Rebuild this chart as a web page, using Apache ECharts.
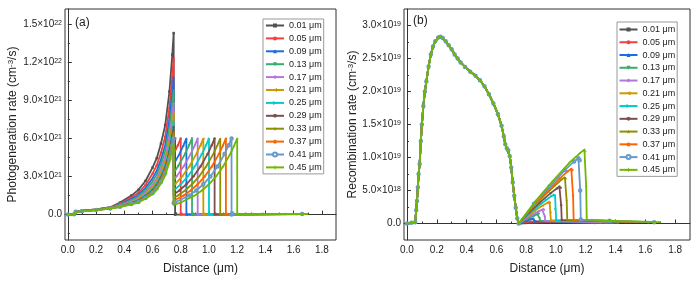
<!DOCTYPE html>
<html><head><meta charset="utf-8">
<script src="https://cdn.jsdelivr.net/npm/echarts@6/dist/echarts.min.js"></script>
<style>html,body{margin:0;padding:0;background:#fff}#c{width:700px;height:282px}</style>
</head><body><div id="c"></div>
<script>
// ---------- legend / series names ----------
const seriesNames = ['0.01 μm','0.05 μm','0.09 μm','0.13 μm','0.17 μm','0.21 μm','0.25 μm','0.29 μm','0.33 μm','0.37 μm','0.41 μm','0.45 μm'];
const seriesColors = ['#515151','#F14040','#1A6FDF','#37AD6B','#B177DE','#CC9900','#00CBCC','#7D4E4E','#8E8E00','#FB6501','#6699CC','#6FB802'];
const seriesSymbols = ['rect','circle','triangle','path://M0,0 L10,0 L5,10 Z','diamond','path://M10,0 L10,10 L0,5 Z','path://M0,0 L10,5 L0,10 Z','path://M5,0 L10,2.5 L10,7.5 L5,10 L0,7.5 L0,2.5 Z','path://M5,0 L6.2,3.6 L10,3.6 L7,5.9 L8.1,9.5 L5,7.3 L1.9,9.5 L3,5.9 L0,3.6 L3.8,3.6 Z','path://M5,0 L10,3.8 L8.1,10 L1.9,10 L0,3.8 Z','emptyCircle','path://M4,0 H6 V4 H10 V6 H6 V10 H4 V6 H0 V4 H4 Z'];

// ---------- panel (a): photogeneration rate, units of 1e21 cm^-3/s ----------
const genLeftX = [0, 0.045, 0.055, 0.1, 0.2, 0.3, 0.37, 0.45, 0.5, 0.55, 0.6, 0.63, 0.66, 0.69, 0.72, 0.74, 0.75];
const genLeftY = [
  [0, 0.02, 0.28, 0.32, 0.42, 0.58, 0.95, 1.50, 1.95, 2.65, 3.70, 4.45, 5.60, 7.05, 9.70, 12.60, 14.30],
  [0, 0.02, 0.26, 0.31, 0.41, 0.56, 0.87, 1.34, 1.72, 2.33, 3.22, 3.88, 4.88, 6.14, 8.42, 10.88, 12.30],
  [0, 0.02, 0.25, 0.30, 0.40, 0.54, 0.81, 1.22, 1.55, 2.09, 2.86, 3.45, 4.34, 5.47, 7.48, 9.60, 10.85],
  [0, 0.02, 0.24, 0.29, 0.39, 0.53, 0.77, 1.13, 1.43, 1.92, 2.60, 3.15, 3.96, 5.00, 6.80, 8.70, 9.75],
  [0, 0.02, 0.23, 0.28, 0.38, 0.52, 0.73, 1.05, 1.31, 1.76, 2.36, 2.85, 3.59, 4.53, 6.16, 7.82, 8.75],
  [0, 0.02, 0.22, 0.28, 0.38, 0.51, 0.70, 0.99, 1.23, 1.64, 2.18, 2.64, 3.32, 4.19, 5.68, 7.17, 8.00],
  [0, 0.02, 0.22, 0.27, 0.37, 0.50, 0.67, 0.94, 1.15, 1.53, 2.02, 2.45, 3.08, 3.89, 5.27, 6.61, 7.35],
  [0, 0.02, 0.21, 0.27, 0.37, 0.50, 0.65, 0.90, 1.10, 1.46, 1.91, 2.32, 2.92, 3.69, 4.98, 6.22, 6.90],
  [0, 0.02, 0.21, 0.27, 0.37, 0.49, 0.64, 0.87, 1.05, 1.39, 1.82, 2.21, 2.77, 3.51, 4.72, 5.87, 6.50],
  [0, 0.02, 0.21, 0.26, 0.36, 0.49, 0.63, 0.85, 1.03, 1.36, 1.76, 2.14, 2.69, 3.40, 4.57, 5.66, 6.25],
  [0, 0.02, 0.20, 0.26, 0.36, 0.48, 0.62, 0.83, 1.00, 1.31, 1.70, 2.07, 2.59, 3.28, 4.41, 5.44, 6.00],
  [0, 0.02, 0.20, 0.26, 0.36, 0.48, 0.60, 0.80, 0.95, 1.25, 1.60, 1.95, 2.45, 3.10, 4.15, 5.10, 5.60]
];
// second absorber layer + tail, [distance um, rate 1e21]
const genLayer2 = [
  [[0.75,5.73],[0.76,6.0],[0.76,0],[0.765,0.08],[1.26,0.05]],
  [[0.75,4.77],[0.78,5.47],[0.80,6.0],[0.80,0],[0.805,0.08],[1.30,0.05]],
  [[0.75,3.97],[0.79,4.77],[0.82,5.47],[0.84,6.0],[0.84,0],[0.845,0.08],[1.34,0.05]],
  [[0.75,3.30],[0.78,3.79],[0.83,4.77],[0.86,5.47],[0.88,6.0],[0.88,0],[0.885,0.08],[1.38,0.05]],
  [[0.75,2.74],[0.77,3.01],[0.82,3.79],[0.87,4.77],[0.90,5.47],[0.92,6.0],[0.92,0],[0.925,0.08],[1.42,0.05]],
  [[0.75,2.28],[0.76,2.39],[0.81,3.01],[0.86,3.79],[0.91,4.77],[0.94,5.47],[0.96,6.0],[0.96,0],[0.965,0.08],[1.46,0.05]],
  [[0.75,1.90],[0.80,2.39],[0.85,3.01],[0.90,3.79],[0.95,4.77],[0.98,5.47],[1.00,6.0],[1.00,0],[1.005,0.08],[1.50,0.05]],
  [[0.75,1.58],[0.79,1.90],[0.84,2.39],[0.89,3.01],[0.94,3.79],[0.99,4.77],[1.02,5.47],[1.04,6.0],[1.04,0],[1.045,0.08],[1.54,0.05]],
  [[0.75,1.31],[0.78,1.51],[0.83,1.90],[0.88,2.39],[0.93,3.01],[0.98,3.79],[1.03,4.77],[1.06,5.47],[1.08,6.0],[1.08,0],[1.085,0.08],[1.58,0.05]],
  [[0.75,1.09],[0.82,1.51],[0.87,1.90],[0.92,2.39],[0.97,3.01],[1.02,3.79],[1.07,4.77],[1.10,5.47],[1.12,6.0],[1.12,0],[1.125,0.08],[1.62,0.05]],
  [[0.75,0.91],[0.76,0.95],[0.86,1.51],[0.91,1.90],[0.96,2.39],[1.01,3.01],[1.06,3.79],[1.11,4.77],[1.14,5.47],[1.16,6.0],[1.16,0],[1.165,0.08],[1.66,0.05]],
  [[0.75,0.76],[0.80,0.95],[0.90,1.51],[0.95,1.90],[1.00,2.39],[1.05,3.01],[1.10,3.79],[1.15,4.77],[1.18,5.47],[1.20,6.0],[1.20,0],[1.205,0.08],[1.70,0.05]]
];

// ---------- panel (b): recombination rate, units of 1e19 cm^-3/s ----------
const recMainX = [0, 0.03, 0.055, 0.062, 0.067, 0.073, 0.078, 0.085, 0.093, 0.1, 0.11, 0.12, 0.13, 0.145, 0.16, 0.175, 0.19, 0.21, 0.225, 0.24, 0.26, 0.28, 0.3, 0.32, 0.34, 0.36, 0.39, 0.425, 0.46, 0.49, 0.52, 0.55, 0.58, 0.61, 0.635, 0.65, 0.66, 0.67, 0.68, 0.69, 0.70, 0.71, 0.72, 0.73, 0.74];
const recMainY = [0, 0.01, 0.02, 0.20, 0.34, 0.55, 0.75, 0.90, 1.25, 1.50, 1.78, 2.00, 2.15, 2.38, 2.56, 2.68, 2.76, 2.82, 2.83, 2.81, 2.76, 2.70, 2.64, 2.56, 2.50, 2.44, 2.37, 2.30, 2.24, 2.17, 2.08, 1.96, 1.82, 1.66, 1.48, 1.32, 1.20, 1.14, 1.11, 1.02, 0.85, 0.62, 0.42, 0.24, 0.08];
const recHump = [
  [[0.75,0],[0.76,0.005],[0.96,0.02],[1.26,0.01]],
  [[0.75,0],[0.78,0.02],[0.80,0.033],[0.806,0.035],[0.81,0.03],[1.0,0.025],[1.30,0.01]],
  [[0.75,0],[0.776,0.025],[0.803,0.045],[0.829,0.065],[0.845,0.075],[0.85,0.08],[0.855,0.05],[0.86,0.035],[1.04,0.03],[1.34,0.015]],
  [[0.75,0],[0.785,0.045],[0.82,0.085],[0.855,0.12],[0.876,0.14],[0.88,0.15],[0.886,0.145],[0.89,0.08],[0.894,0.04],[1.08,0.03],[1.38,0.015]],
  [[0.75,0],[0.794,0.07],[0.838,0.13],[0.881,0.18],[0.908,0.21],[0.915,0.22],[0.921,0.21],[0.925,0.11],[0.929,0.04],[1.12,0.03],[1.42,0.015]],
  [[0.75,0],[0.803,0.10],[0.856,0.19],[0.909,0.27],[0.941,0.31],[0.95,0.33],[0.958,0.32],[0.962,0.17],[0.966,0.05],[1.16,0.04],[1.46,0.02]],
  [[0.75,0],[0.812,0.13],[0.874,0.25],[0.936,0.36],[0.973,0.42],[0.986,0.44],[0.994,0.43],[0.998,0.22],[1.002,0.05],[1.20,0.04],[1.50,0.02]],
  [[0.75,0],[0.821,0.17],[0.893,0.32],[0.964,0.46],[1.006,0.53],[1.023,0.56],[1.031,0.54],[1.035,0.28],[1.039,0.05],[1.24,0.04],[1.54,0.02]],
  [[0.75,0],[0.83,0.21],[0.911,0.40],[0.991,0.57],[1.04,0.67],[1.06,0.70],[1.068,0.68],[1.072,0.35],[1.076,0.05],[1.28,0.04],[1.58,0.02]],
  [[0.75,0],[0.841,0.25],[0.933,0.47],[1.024,0.68],[1.079,0.79],[1.103,0.83],[1.111,0.81],[1.115,0.42],[1.119,0.06],[1.32,0.04],[1.62,0.02]],
  [[0.75,0],[0.853,0.30],[0.957,0.56],[1.06,0.81],[1.122,0.94],[1.151,0.99],[1.159,0.96],[1.163,0.50],[1.167,0.06],[1.36,0.04],[1.66,0.02]],
  [[0.75,0],[0.863,0.34],[0.977,0.64],[1.09,0.92],[1.158,1.06],[1.191,1.12],[1.199,1.09],[1.203,0.56],[1.207,0.06],[1.40,0.04],[1.70,0.02]]
];

// ---------- ticks ----------
const xTickValues = [0, 0.2, 0.4, 0.6, 0.8, 1.0, 1.2, 1.4, 1.6, 1.8];
const xMinorTicks = [0.1, 0.3, 0.5, 0.7, 0.9, 1.1, 1.3, 1.5, 1.7];
const yTickValuesA = [0, 3, 6, 9, 12, 15];
const yTickMantA = ['0.0', '3.0×10', '6.0×10', '9.0×10', '1.2×10', '1.5×10'];
const yTickExpA = ['', '21', '21', '21', '22', '22'];
const yMinorA = [-1.5, 1.5, 4.5, 7.5, 10.5, 13.5];
const yTickValuesB = [0, 0.5, 1.0, 1.5, 2.0, 2.5, 3.0];
const yTickMantB = ['0.0', '5.0×10', '1.0×10', '1.5×10', '2.0×10', '2.5×10', '3.0×10'];
const yTickExpB = ['', '18', '19', '19', '19', '19', '19'];
const yMinorB = [0.25, 0.75, 1.25, 1.75, 2.25, 2.75];

const FONT = 'Arial, "Liberation Sans", sans-serif';
const AX = '#333';
const TXT = '#222';

function labelFmt(vals, mant, exp) {
  return function (v) {
    const i = vals.findIndex(t => Math.abs(t - v) < 1e-9);
    if (i < 0) return '';
    return exp[i] ? '{m|' + mant[i] + '}{s|' + exp[i] + '}' : '{m|' + mant[i] + '}';
  };
}
const tickRich = { m: { fontSize: 10, fontFamily: FONT, color: TXT }, s: { fontSize: 7, fontFamily: FONT, color: TXT, verticalAlign: 'top' } };

function xMain(grid) {
  return {
    type: 'value', gridIndex: grid, min: -0.02, max: 1.9,
    axisLine: { show: true, lineStyle: { color: AX, width: 1 } },
    axisTick: { show: true, inside: true, length: 4, customValues: xTickValues, lineStyle: { color: AX } },
    axisLabel: { customValues: xTickValues, formatter: v => v.toFixed(1), margin: 5, fontSize: 10, fontFamily: FONT, color: TXT },
    splitLine: { show: false },
    name: 'Distance (μm)', nameLocation: 'middle', nameGap: 23,
    nameTextStyle: { fontSize: 12, fontFamily: FONT, color: TXT }
  };
}
function xMinor(grid) {
  return {
    type: 'value', gridIndex: grid, min: -0.02, max: 1.9, position: 'bottom',
    axisLine: { show: false }, axisLabel: { show: false }, splitLine: { show: false },
    axisTick: { show: true, inside: true, length: 2, customValues: xMinorTicks, lineStyle: { color: AX } }
  };
}
function yMain(grid, min, max, vals, mant, exp, name, gap) {
  return {
    type: 'value', gridIndex: grid, min: min, max: max,
    axisLine: { show: true, lineStyle: { color: AX, width: 1 } },
    axisTick: { show: true, inside: true, length: 4, customValues: vals, lineStyle: { color: AX } },
    axisLabel: { customValues: vals, formatter: labelFmt(vals, mant, exp), margin: 3, rich: tickRich },
    splitLine: { show: false },
    name: name, nameLocation: 'middle', nameGap: gap,
    nameTextStyle: { fontSize: 12, fontFamily: FONT, color: TXT,
      rich: { s: { fontSize: 8, fontFamily: FONT, color: TXT, verticalAlign: 'top' } } }
  };
}
function yMinor(grid, min, max, vals) {
  return {
    type: 'value', gridIndex: grid, min: min, max: max, position: 'left',
    axisLine: { show: false }, axisLabel: { show: false }, splitLine: { show: false },
    axisTick: { show: true, inside: true, length: 2, customValues: vals, lineStyle: { color: AX } }
  };
}

const series = [];
for (let i = 0; i < seriesNames.length; i++) {
  const dataA = genLeftX.map((x, j) => [x, genLeftY[i][j]]).concat(genLayer2[i]);
  const dataB = recMainX.map((x, j) => [x, recMainY[j]]).concat(recHump[i]);
  const common = {
    type: 'line', name: seriesNames[i], color: seriesColors[i],
    symbol: seriesSymbols[i], symbolSize: 2.5, showSymbol: true,
    lineStyle: { width: 1.8, color: seriesColors[i] },
    itemStyle: { color: seriesColors[i] },
    animation: false, z: 2 + i
  };
  series.push(Object.assign({}, common, { xAxisIndex: 0, yAxisIndex: 0, data: dataA }));
  series.push(Object.assign({}, common, { xAxisIndex: 2, yAxisIndex: 2, data: dataB }));
}

const legendCommon = {
  orient: 'vertical', itemWidth: 18, itemHeight: 5, borderColor: '#999', borderWidth: 1,
  textStyle: { fontSize: 9, fontFamily: FONT, color: TXT, lineHeight: 8 },
  data: seriesNames, selectedMode: false
};

const option = {
  backgroundColor: '#fff',
  animation: false,
  grid: [
    { left: 65, top: 9, width: 271, height: 231, show: true, borderColor: AX, borderWidth: 1, containLabel: false },
    { left: 404, top: 9, width: 286, height: 231, show: true, borderColor: AX, borderWidth: 1, containLabel: false }
  ],
  xAxis: [xMain(0), xMinor(0), xMain(1), xMinor(1)],
  yAxis: [
    yMain(0, -2.0, 16.2, yTickValuesA, yTickMantA, yTickExpA, 'Photogeneration rate (cm{s|-3}/s)', 46),
    yMinor(0, -2.0, 16.2, yMinorA),
    yMain(1, -0.25, 3.25, yTickValuesB, yTickMantB, yTickExpB, 'Recombination rate (cm{s|-3}/s)', 44),
    yMinor(1, -0.25, 3.25, yMinorB)
  ],
  legend: [
    Object.assign({}, legendCommon, { left: 263, top: 19, itemGap: 3.9, padding: [2, 2, 2, 2] }),
    Object.assign({}, legendCommon, { left: 617, top: 22, itemGap: 3.76, padding: [3, 2, 2, 1.5] })
  ],
  graphic: [
    { type: 'text', left: 75, top: 17, style: { text: '(a)', fontSize: 12, fontFamily: FONT, fill: TXT } },
    { type: 'text', left: 413, top: 15, style: { text: '(b)', fontSize: 12, fontFamily: FONT, fill: TXT } }
  ],
  series: series
};

const chart = echarts.init(document.getElementById('c'), null, { renderer: 'canvas' });
chart.setOption(option);
</script>
</body></html>
